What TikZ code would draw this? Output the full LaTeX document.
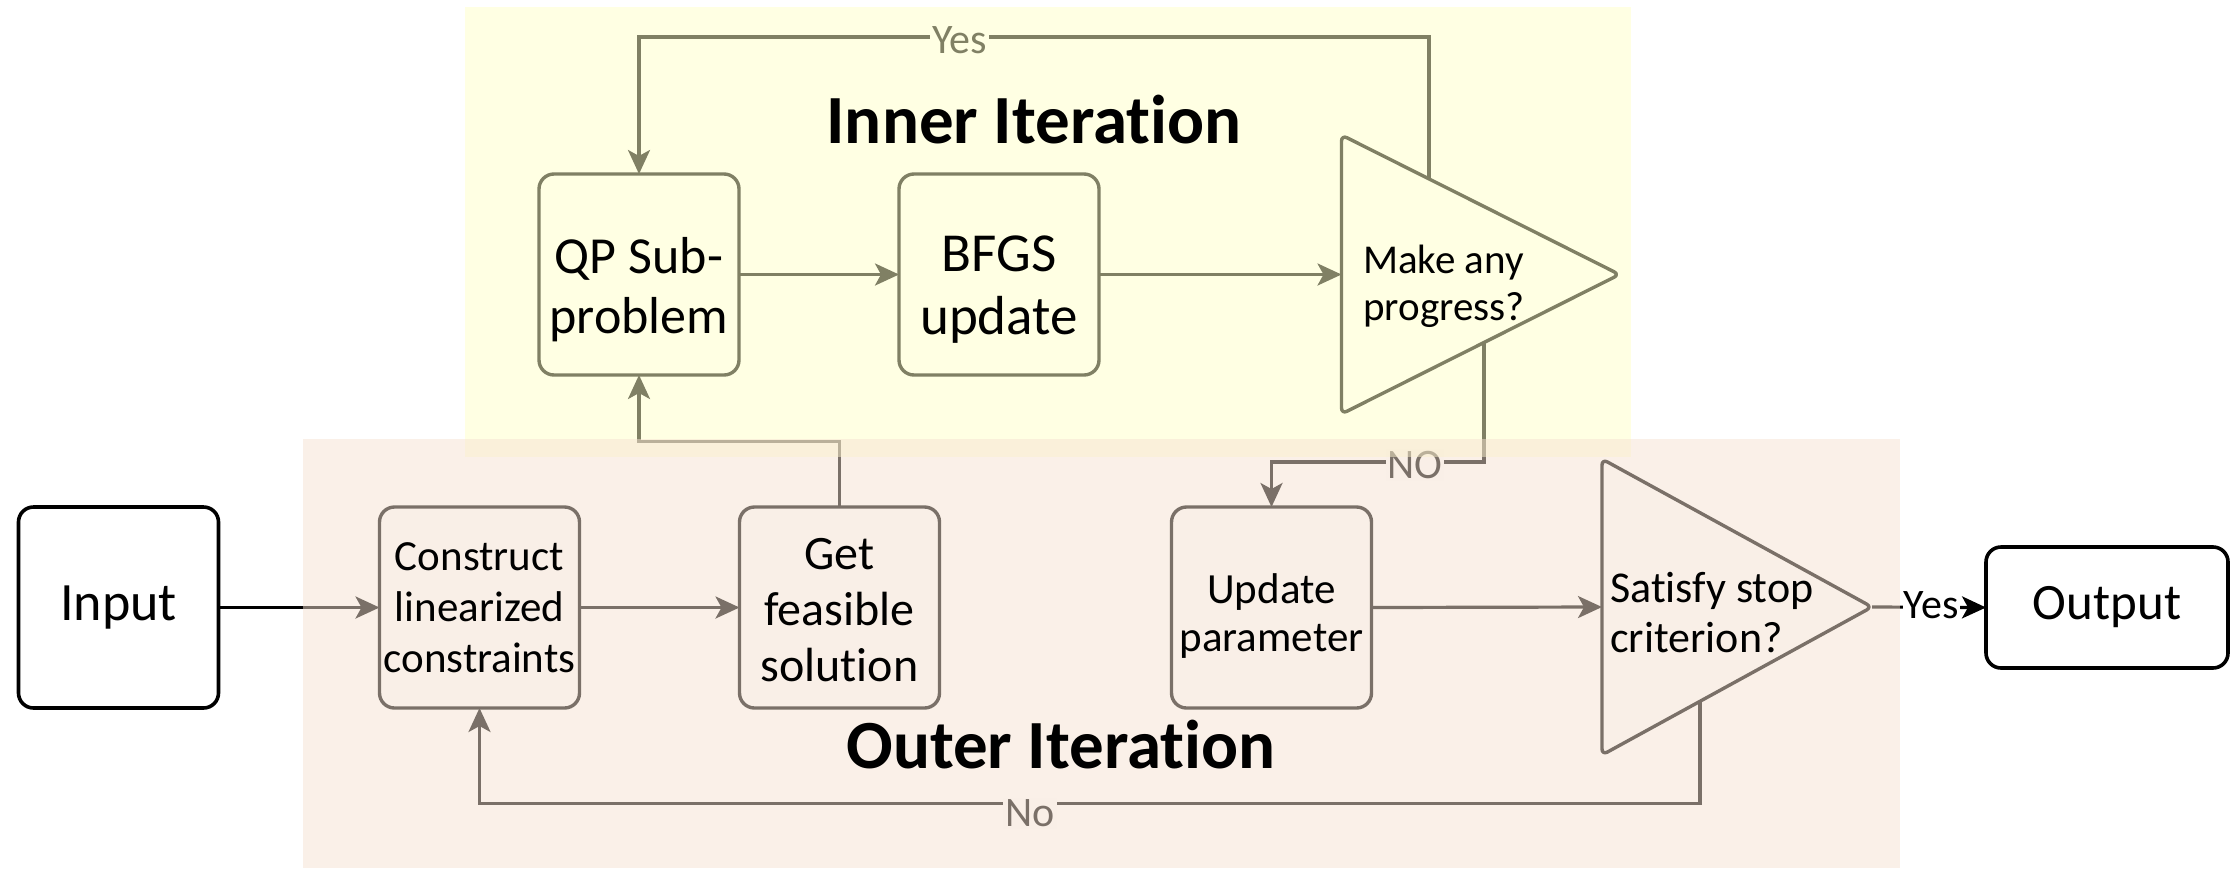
\documentclass[tikz,border=0pt]{standalone}
\usepackage{fontspec}
\setmainfont{Carlito}[Ligatures=NoCommon]
\usetikzlibrary{arrows.meta,calc}

% drawing order: outlines and links, then the tinted regions, then the texts
\pgfdeclarelayer{tint}
\pgfdeclarelayer{front}
\pgfsetlayers{main,tint,front}

\definecolor{innerTint}{RGB}{255,255,200}
\definecolor{outerTint}{RGB}{245,225,209}

\begin{document}
\begin{tikzpicture}[
  x=1pt, y=-1pt,
  stepbox/.style={draw=black, fill=white, line width=3.4pt, rounded corners=15pt,
    minimum width=200pt, minimum height=201pt, inner sep=0pt, outer sep=0pt},
  iobox/.style={draw=black, fill=white, line width=3.6pt, rounded corners=15pt,
    inner sep=0pt, outer sep=0pt},
  triframe/.style={minimum width=#1, inner sep=0pt, outer sep=0pt},
  triline/.style={draw=black, fill=white, line width=3.4pt, rounded corners=6pt, line join=round},
  conn/.style={line width=3.2pt, -{Stealth[length=24pt, width=22pt, inset=6pt]}},
  elabel/.style={fill=white, inner sep=2pt, font=\fontsize{42}{50}\selectfont},
  txt/.style 2 args={align=center, inner sep=0pt, font=\fontsize{#1}{#2}\selectfont},
  lefttxt/.style 2 args={align=left, inner sep=0pt, anchor=west, font=\fontsize{#1}{#2}\selectfont},
  title/.style={anchor=base, inner sep=0pt, font=\fontsize{69}{80}\selectfont\bfseries},
]
\useasboundingbox (0,0) rectangle (2234,868);

% ---- boxes ----
\node[iobox, minimum width=200pt, minimum height=201pt, font=\fontsize{54}{60}\selectfont] (input) at (118.5,607.5) {Input};
\node[stepbox] (construct) at (479.5,607.5) {};
\node[stepbox] (get) at (839.5,607.5) {};
\node[stepbox] (qp) at (639,274.5) {};
\node[stepbox] (bfgs) at (999,274.5) {};
\node[stepbox] (update) at (1271.5,607.5) {};
\node[iobox, minimum width=242pt, minimum height=121pt, font=\fontsize{51}{60}\selectfont] (output) at (2107,607.5) {Output};

% ---- decision triangles ----
\node[triframe=278pt, minimum height=279pt] (prog) at (1480.5,274.5) {};
\draw[triline] (prog.north west) -- (prog.east) -- (prog.south west) -- cycle;
\node[triframe=270pt, minimum height=296pt] (stop) at (1737,607) {};
\draw[triline] (stop.north west) -- (stop.east) -- (stop.south west) -- cycle;

% ---- routing rows and taps on the triangle edges ----
\coordinate (yesrow) at (0,37);
\coordinate (norow) at (0,462);
\coordinate (backrow) at (0,441.5);
\coordinate (outerrow) at (0,803.5);
\coordinate (progtop) at ($(prog.north west)!0.315!(prog.east)$);
\coordinate (progbot) at ($(prog.south west)!0.5126!(prog.east)$);
\coordinate (stopbot) at ($(stop.south west)!0.363!(stop.east)$);

% ---- links ----
\draw[conn] (input.east) -- (construct.west);
\draw[conn] (construct.east) -- (get.west);
\draw[conn] (get.north) -- (get.north |- backrow) -- (qp.south |- backrow) -- (qp.south);
\draw[conn] (qp.east) -- (bfgs.west);
\draw[conn] (bfgs.east) -- (prog.west);
\draw[conn] (progtop) -- (progtop |- yesrow)
  -- node[elabel, pos=0.594, yshift=-3pt] (yesInner) {Yes} (qp.north |- yesrow) -- (qp.north);
\draw[conn] (progbot) -- (progbot |- norow)
  -- node[elabel, pos=0.325, yshift=-3pt] (noInner) {NO} (update.north |- norow) -- (update.north);
\draw[conn] (update.east) -- (stop.west);
\draw[conn] (stop.east) -- node[elabel, inner sep=1pt, pos=0.52, yshift=2pt] (yesOuter) {Yes} (output.west);
\draw[conn] (stopbot) -- (stopbot |- outerrow)
  -- node[elabel, pos=0.549, yshift=-10pt] (noOuter) {No} (construct.south |- outerrow) -- (construct.south);

% ---- tinted regions ----
\begin{pgfonlayer}{tint}
  \fill[innerTint, fill opacity=0.5] (465,7) rectangle (1631,457);
  \fill[outerTint, fill opacity=0.5] (303,439) rectangle (1900,868);
\end{pgfonlayer}

% ---- texts ----
\begin{pgfonlayer}{front}
  \node[txt={52}{60}, yshift=-15pt] (qpText) at (qp) {QP Sub-\\problem};
  \node[txt={55}{63}, yshift=-15pt] (bfgsText) at (bfgs) {BFGS\\update};
  \node[txt={43}{51}] (constructText) at (construct) {Construct\\linearized\\constraints};
  \node[txt={48}{56}, yshift=-3pt] (getText) at (get) {Get\\feasible\\solution};
  \node[txt={43}{48}, yshift=-9pt] (updateText) at (update) {Update\\parameter};
  \node[lefttxt={41}{47}] (progText) at (1363,286) {Make any\\progress?};
  \node[lefttxt={44}{50}] (stopText) at (1610,613) {Satisfy stop\\criterion?};
  \node[title] (innerTitle) at (1034,143) {Inner Iteration};
  \node[title] (outerTitle) at (1061,768) {Outer Iteration};
\end{pgfonlayer}
\end{tikzpicture}
\end{document}
